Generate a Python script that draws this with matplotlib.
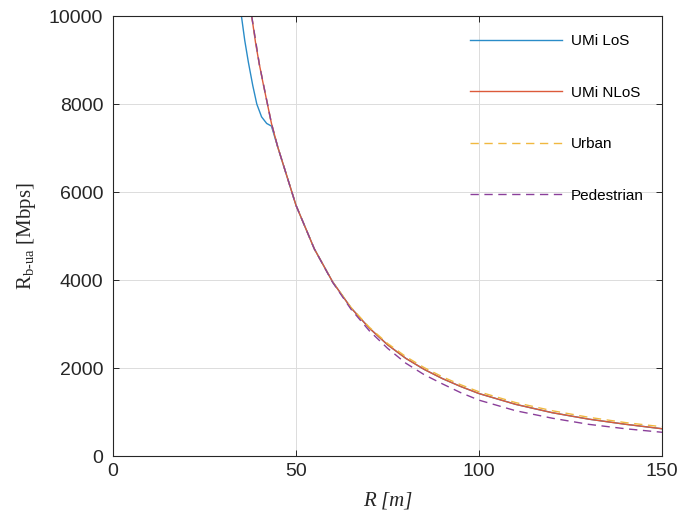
import numpy as np
import matplotlib
matplotlib.use('Agg')
import matplotlib.pyplot as plt

# data (R in m, rate in Mbps)
r_los = [35.1, 36.0, 37.0, 38.2, 39.3, 40.6, 42.0, 43.3, 45, 50, 55, 60, 65, 70, 75, 80,
         85, 90, 95, 100, 110, 120, 130, 140, 150]
rate_los = [10000, 9450, 8950, 8420, 8000, 7710, 7560, 7500, 7030, 5700, 4710, 3960, 3370,
            2910, 2530, 2220, 1970, 1760, 1580, 1420, 1175, 985, 838, 722, 620]

r_nlos = [37.9, 39, 40, 41, 42, 43.3, 45, 50, 55, 60, 65, 70, 75, 80, 85, 90, 95, 100, 110,
          120, 130, 140, 150]
rate_nlos = [10000, 9370, 8900, 8480, 8080, 7560, 7030, 5700, 4710, 3960, 3370, 2910, 2530,
             2220, 1970, 1760, 1580, 1420, 1175, 985, 838, 722, 620]

r_urban = [37.9, 40, 43.3, 45, 50, 55, 60, 65, 70, 75, 80, 85, 90, 95, 100, 110, 120, 130, 140, 150]
rate_urban = [10000, 8900, 7560, 7030, 5700, 4710, 3960, 3380, 2930, 2560, 2260, 2010, 1800,
              1620, 1460, 1215, 1030, 880, 760, 665]

r_ped = [37.9, 40, 43.3, 45, 50, 55, 60, 65, 70, 75, 80, 85, 90, 95, 100, 110, 120, 130, 140, 150]
rate_ped = [10000, 8900, 7560, 7030, 5700, 4710, 3950, 3340, 2850, 2450, 2110, 1850, 1640,
            1440, 1270, 1030, 860, 720, 620, 540]

fig = plt.figure(figsize=(6.97, 5.2), dpi=100)
ax = fig.add_axes([0.162, 0.123, 0.788, 0.846])

ax.plot(r_los, rate_los, '-', color='#2a8cc8', linewidth=1.0, label='UMi LoS')
ax.plot(r_nlos, rate_nlos, '-', color='#dc5a3a', linewidth=1.0, label='UMi NLoS')
ax.plot(r_urban, rate_urban, '--', color='#f0b840', linewidth=1.0, dashes=(6, 4), label='Urban')
ax.plot(r_ped, rate_ped, '--', color='#8a3f9a', linewidth=1.0, dashes=(6, 4), label='Pedestrian')

ax.set_xlim(0, 150)
ax.set_ylim(0, 10000)
ax.set_xticks([0, 50, 100, 150])
ax.set_yticks([0, 2000, 4000, 6000, 8000, 10000])
ax.grid(True, color='#dcdcdc', linewidth=0.7)
ax.tick_params(direction='in', top=True, right=True, length=4, width=0.7,
               labelsize=14, colors='#262626')
ax.tick_params(axis='x', pad=5)
ax.tick_params(axis='y', pad=7)
for lab in ax.get_xticklabels() + ax.get_yticklabels():
    lab.set_family('Liberation Sans')
for sp in ax.spines.values():
    sp.set_color('#262626')
    sp.set_linewidth(0.8)

ax.set_xlabel('R [m]', family='Liberation Serif', style='italic', fontsize=15, color='#262626',
              labelpad=8)
ax.set_ylabel('R$\\mathregular{_{b\u2010ua}}$ [Mbps]', family='Liberation Serif', fontsize=15,
              color='#262626', labelpad=8)

leg = ax.legend(loc='upper right', frameon=False, fontsize=11, handlelength=6.0,
                labelspacing=2.45, bbox_to_anchor=(0.992, 0.99), handletextpad=0.6)
for t in leg.get_texts():
    t.set_family('Liberation Sans')

fig.savefig('out.png', dpi=100)
